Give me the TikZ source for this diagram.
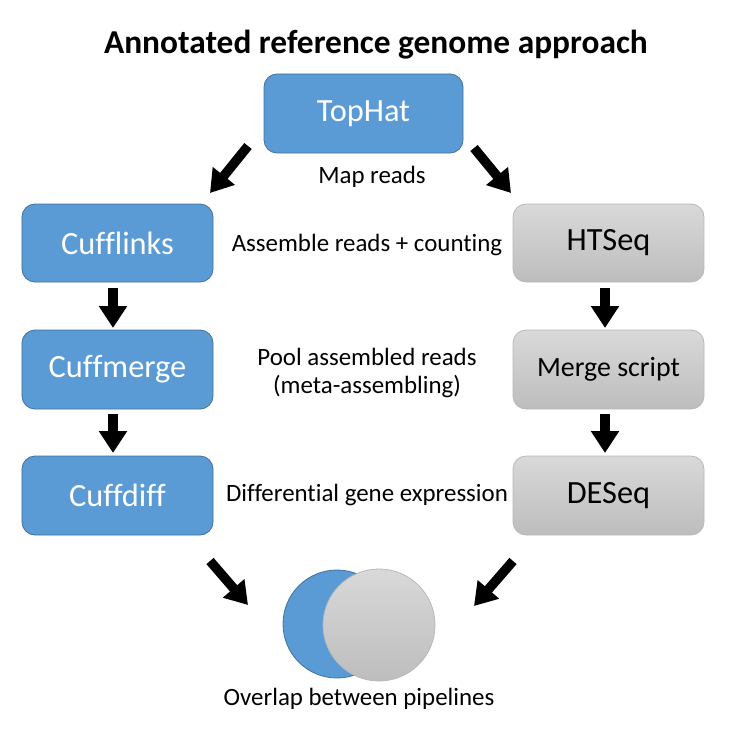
\documentclass[tikz,border=0pt]{standalone}
\usepackage{fontspec}
\setmainfont{Carlito}[Ligatures=NoCommon]
\usetikzlibrary{arrows.meta}
\definecolor{bfill}{HTML}{5B9BD5}
\definecolor{bline}{HTML}{41719C}
\definecolor{gtop}{HTML}{D9D9D9}
\definecolor{gbot}{HTML}{BDBDBD}
\definecolor{gline}{HTML}{B8B8B8}
\tikzset{
  bluebox/.style={draw=bline, fill=bfill, line width=0.8bp, rounded corners=13bp, text=white, font=\fontsize{32.5}{38}\selectfont, inner sep=0pt},
  graybox/.style={draw=gline, top color=gtop, bottom color=gbot, line width=0.8bp, rounded corners=13bp, text=black, font=\fontsize{32.5}{38}\selectfont, inner sep=0pt},
  lab/.style={font=\fontsize{25}{29}\selectfont, align=center, inner sep=0pt},
  bigarrow/.style={line width=9.5bp, -{Triangle[width=27bp,length=22bp]}},
}
\begin{document}
\begin{tikzpicture}[x=1bp,y=-1bp]
\useasboundingbox (0,0) rectangle (743,730);
\node[font=\bfseries\fontsize{33.5}{38}\selectfont] (title) at (376,45) {Annotated reference genome approach};

\node[bluebox, minimum width=199bp, minimum height=79bp] (tophat) at (363.5,113.5) {TopHat};
\node[bluebox, minimum width=191bp, minimum height=78bp] (cufflinks) at (117.5,243) {Cufflinks};
\node[bluebox, minimum width=191bp, minimum height=79bp] (cuffmerge) at (117.5,369.5) {Cuffmerge};
\node[bluebox, minimum width=191bp, minimum height=79bp] (cuffdiff) at (117.5,495.5) {Cuffdiff};
\node[graybox, minimum width=191bp, minimum height=78bp] (htseq) at (608.5,243) {HTSeq};
\node[graybox, minimum width=191bp, minimum height=79bp, font=\fontsize{28}{33}\selectfont] (merge) at (608.5,369.5) {Merge script};
\node[graybox, minimum width=191bp, minimum height=79bp] (deseq) at (608.5,495.5) {DESeq};

\node[lab] (l1) at (372,177) {Map reads};
\node[lab] (l2) at (367,245) {Assemble reads + counting};
\node[lab, align=center] (l3) at (367,373) {Pool assembled reads\\(meta-assembling)};
\node[lab] (l4) at (367,495) {Differential gene expression};

% Venn
\draw[draw=bline, fill=bfill, line width=0.8bp] (337,624) circle (54bp);
\node[circle, draw=gline, top color=gtop, bottom color=gbot, line width=0.8bp, minimum size=112bp, inner sep=0pt] (venn) at (379,625) {};
\node[lab] (l5) at (359,699) {Overlap between pipelines};

% arrows
\coordinate (a1s) at (248,146); \coordinate (a1e) at (210,193);
\coordinate (a2s) at (474,148); \coordinate (a2e) at (511,193);
\draw[bigarrow] (a1s) -- (a1e);
\draw[bigarrow] (a2s) -- (a2e);
\coordinate (d1s) at (113,288); \coordinate (d1e) at (113,328);
\coordinate (d2s) at (113,414); \coordinate (d2e) at (113,453);
\coordinate (d3s) at (605,288); \coordinate (d3e) at (605,328);
\coordinate (d4s) at (605,414); \coordinate (d4e) at (605,453);
\draw[bigarrow] (d1s) -- (d1e);
\draw[bigarrow] (d2s) -- (d2e);
\draw[bigarrow] (d3s) -- (d3e);
\draw[bigarrow] (d4s) -- (d4e);
\coordinate (b1s) at (210,561); \coordinate (b1e) at (248,605);
\coordinate (b2s) at (513,561); \coordinate (b2e) at (474,606);
\draw[bigarrow] (b1s) -- (b1e);
\draw[bigarrow] (b2s) -- (b2e);
\end{tikzpicture}
\end{document}
